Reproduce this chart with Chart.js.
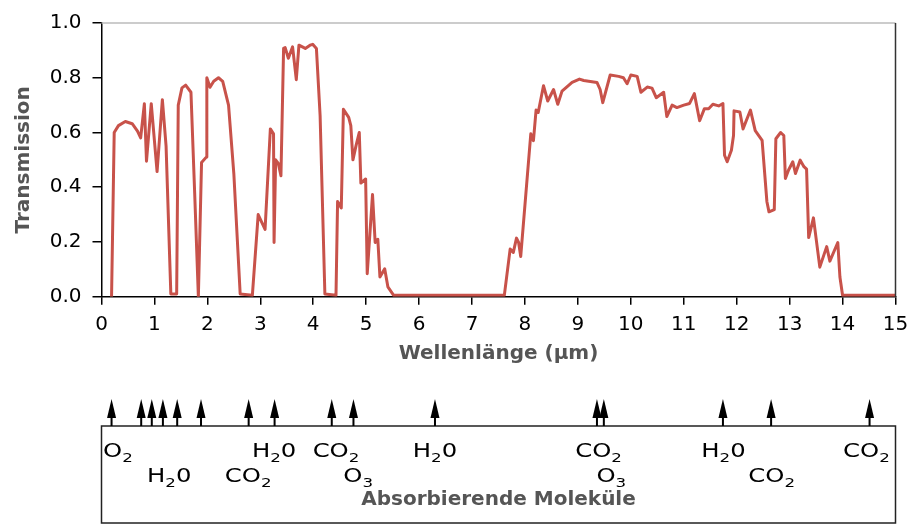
<!DOCTYPE html>
<html>
<head>
<meta charset="utf-8">
<script src="https://cdn.jsdelivr.net/npm/chart.js@4"></script>
<style>
  html, body { margin: 0; padding: 0; background: #fff; }
  #wrap { width: 911px; height: 525px; position: relative; }
</style>
</head>
<body>
<div id="wrap"><canvas id="spectrum"></canvas></div>
<script>
// Wellenlänge in µm und Transmission
const wavelength = [
  0.19, 0.24, 0.32, 0.45, 0.58, 0.68, 0.74, 0.81, 0.85, 0.94, 1.05, 1.15, 1.22, 1.31, 1.42,
  1.45, 1.52, 1.59, 1.69, 1.76, 1.83, 1.89, 1.98, 1.99, 2.05, 2.12, 2.21, 2.29, 2.40, 2.50,
  2.62, 2.85, 2.96, 3.09, 3.19, 3.25, 3.26, 3.29, 3.34, 3.39, 3.44, 3.47, 3.53, 3.61, 3.68,
  3.73, 3.85, 3.94, 3.99, 4.06, 4.13, 4.22, 4.43, 4.46, 4.53, 4.57, 4.67, 4.71, 4.75, 4.81,
  4.87, 4.90, 4.99, 5.02, 5.12, 5.17, 5.22, 5.26, 5.35, 5.41, 5.52, 7.61, 7.72, 7.78, 7.84,
  7.88, 7.92, 8.11, 8.16, 8.21, 8.25, 8.35, 8.43, 8.54, 8.62, 8.70, 8.89, 9.03, 9.11, 9.36,
  9.42, 9.47, 9.61, 9.77, 9.86, 9.93, 10.0, 10.12, 10.19, 10.31, 10.40, 10.48, 10.62, 10.68, 10.78,
  10.87, 11.0, 11.11, 11.20, 11.30, 11.39, 11.47, 11.55, 11.66, 11.74, 11.77, 11.82, 11.90, 11.94, 11.95,
  12.06, 12.12, 12.26, 12.35, 12.48, 12.57, 12.61, 12.71, 12.74, 12.83, 12.89, 12.92, 12.98, 13.06, 13.11,
  13.20, 13.27, 13.32, 13.36, 13.45, 13.57, 13.70, 13.76, 13.91, 13.95, 14.0, 15.0
];
const transmission = [
  0.0, 0.60, 0.625, 0.64, 0.632, 0.605, 0.58, 0.705, 0.495, 0.705, 0.457, 0.72, 0.55, 0.01, 0.01,
  0.70, 0.763, 0.773, 0.747, 0.38, 0.0, 0.49, 0.51, 0.80, 0.765, 0.787, 0.80, 0.787, 0.70, 0.45,
  0.01, 0.005, 0.30, 0.246, 0.613, 0.595, 0.198, 0.50, 0.487, 0.442, 0.907, 0.91, 0.871, 0.913, 0.793,
  0.919, 0.907, 0.919, 0.922, 0.907, 0.661, 0.01, 0.005, 0.348, 0.324, 0.685, 0.655, 0.625, 0.50, 0.553,
  0.60, 0.415, 0.43, 0.084, 0.373, 0.198, 0.21, 0.072, 0.102, 0.036, 0.005, 0.005, 0.174, 0.162, 0.214,
  0.198, 0.147, 0.595, 0.57, 0.682, 0.673, 0.771, 0.715, 0.757, 0.703, 0.751, 0.783, 0.795, 0.79, 0.783,
  0.757, 0.709, 0.81, 0.805, 0.80, 0.778, 0.81, 0.805, 0.747, 0.766, 0.762, 0.727, 0.747, 0.658, 0.70,
  0.691, 0.70, 0.706, 0.742, 0.643, 0.687, 0.687, 0.703, 0.697, 0.706, 0.517, 0.493, 0.535, 0.589, 0.679,
  0.675, 0.613, 0.682, 0.607, 0.571, 0.348, 0.31, 0.318, 0.577, 0.60, 0.589, 0.432, 0.463, 0.493, 0.45,
  0.499, 0.475, 0.466, 0.216, 0.288, 0.108, 0.183, 0.13, 0.198, 0.072, 0.005, 0.005
];

// Absorptionsbanden (Pfeile) und Beschriftungen
const arrowPositions = [0.19, 0.75, 0.95, 1.16, 1.43, 1.88, 2.78, 3.27, 4.35, 4.76, 6.30, 9.36, 9.49, 11.74, 12.65, 14.51];
const moleculeNames = ['O_2', 'H_20', 'CO_2', 'H_20', 'CO_2', 'O_3', 'H_20', 'CO_2', 'O_3', 'H_20', 'CO_2', 'CO_2'];
const moleculeAt    = [0.31, 1.28, 2.77, 3.26, 4.43, 4.85, 6.30, 9.39, 9.63, 11.75, 12.66, 14.45];
const moleculeRow   = [1, 2, 2, 1, 1, 2, 1, 1, 2, 1, 2, 1];

const FONT = 'DejaVu Sans';
Chart.defaults.font.family = FONT;

function drawChem(ctx, text, cx, baseline) {
  // "H_20" -> H, tiefgestellte 2, 0
  const i = text.indexOf('_');
  const parts = i < 0 ? [[text, false]] :
    [[text.slice(0, i), false], [text.charAt(i + 1), true], [text.slice(i + 2), false]];
  const big = '19px "' + FONT + '"', small = '13px "' + FONT + '"';
  let w = 0;
  parts.forEach(p => { ctx.font = p[1] ? small : big; w += ctx.measureText(p[0]).width; });
  ctx.save();
  ctx.translate(cx, baseline);
  ctx.scale(1.28, 1);
  let xx = -w / 2;
  parts.forEach(p => {
    ctx.font = p[1] ? small : big;
    ctx.fillText(p[0], xx, p[1] ? 5 : 0);
    xx += ctx.measureText(p[0]).width;
  });
  ctx.restore();
}

const lowerPanel = {
  id: 'lowerPanel',
  afterDraw(chart) {
    const ctx = chart.ctx, x = chart.scales.x, a = chart.chartArea;
    ctx.save();
    // Rahmen oben / rechts
    ctx.lineWidth = 1.5;
    ctx.strokeStyle = '#bbb';
    ctx.beginPath(); ctx.moveTo(a.left, a.top); ctx.lineTo(a.right, a.top); ctx.stroke();
    ctx.strokeStyle = '#333';
    ctx.beginPath(); ctx.moveTo(a.right, a.top); ctx.lineTo(a.right, a.bottom); ctx.stroke();

    // Kasten
    const L = x.getPixelForValue(0), R = x.getPixelForValue(15);
    ctx.strokeStyle = '#222';
    ctx.strokeRect(L, 426, R - L, 97);

    // Pfeile
    ctx.fillStyle = '#000';
    arrowPositions.forEach(p => {
      const px = x.getPixelForValue(p);
      ctx.beginPath();
      ctx.moveTo(px, 399); ctx.lineTo(px - 4.5, 418); ctx.lineTo(px + 4.5, 418);
      ctx.closePath(); ctx.fill();
      ctx.fillRect(px - 1, 417, 2, 9);
    });

    // Molekülnamen
    ctx.textBaseline = 'alphabetic';
    moleculeNames.forEach((m, i) => {
      drawChem(ctx, m, x.getPixelForValue(moleculeAt[i]), moleculeRow[i] === 1 ? 457 : 482);
    });

    ctx.fillStyle = '#555';
    ctx.font = 'bold 20px "' + FONT + '"';
    ctx.textAlign = 'center';
    ctx.textBaseline = 'middle';
    ctx.fillText('Absorbierende Moleküle', x.getPixelForValue(7.5), 500);
    ctx.restore();
  }
};

new Chart(document.getElementById('spectrum'), {
  type: 'line',
  data: {
    datasets: [{
      data: wavelength.map((w, i) => ({ x: w, y: transmission[i] })),
      borderColor: '#c8524a',
      borderWidth: 3,
      borderJoinStyle: 'round',
      pointRadius: 0,
      tension: 0,
      fill: false
    }]
  },
  options: {
    responsive: true,
    maintainAspectRatio: false,
    animation: false,
    layout: { padding: { top: 19, right: 15.5, bottom: 159, left: 0 } },
    plugins: { legend: { display: false }, tooltip: { enabled: false } },
    scales: {
      x: {
        type: 'linear', min: 0, max: 15,
        ticks: { stepSize: 1, color: '#000', font: { size: 20 }, padding: 8 },
        grid: { drawOnChartArea: false, tickLength: 8, color: '#000', lineWidth: 1.5 },
        border: { color: '#000', width: 1.5 },
        title: { display: true, text: 'Wellenlänge (μm)', color: '#555', font: { size: 20, weight: 'bold' }, padding: 0 },
        afterFit: s => { s.height = 69.3; s.paddingLeft = 0; s.paddingRight = 0; }
      },
      y: {
        min: 0, max: 1,
        ticks: { stepSize: 0.2, color: '#000', font: { size: 20 }, padding: 11, callback: v => v.toFixed(1) },
        grid: { drawOnChartArea: false, tickLength: 9, color: '#000', lineWidth: 1.5 },
        border: { color: '#000', width: 1.5 },
        title: { display: true, text: 'Transmission', color: '#555', font: { size: 20, weight: 'bold' }, padding: { top: 12, bottom: 0 } },
        afterFit: s => { s.width = 101.5; }
      }
    }
  },
  plugins: [lowerPanel]
});
</script>
</body>
</html>
